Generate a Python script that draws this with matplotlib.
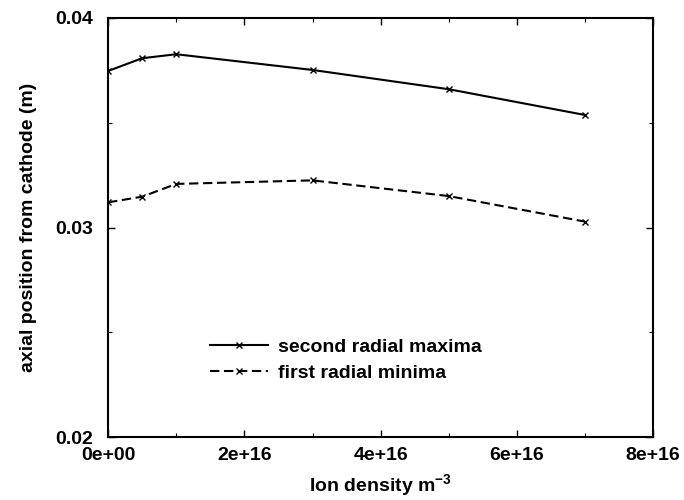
import matplotlib
matplotlib.use("Agg")
import matplotlib.pyplot as plt
from matplotlib.ticker import MultipleLocator, FuncFormatter

plt.rcParams['font.family'] = ['Liberation Sans', 'DejaVu Sans']
plt.rcParams['font.weight'] = 'bold'
plt.rcParams['axes.labelweight'] = 'bold'
plt.rcParams['mathtext.fontset'] = 'custom'
plt.rcParams['mathtext.rm'] = 'Liberation Sans:bold'
plt.rcParams['mathtext.default'] = 'rm'

ion_density = [0.0, 0.5e16, 1.0e16, 3.0e16, 5.0e16, 7.0e16]
second_radial_maxima = [0.03747, 0.03808, 0.03827, 0.03752, 0.0366, 0.03537]
first_radial_minima = [0.0312, 0.03147, 0.03208, 0.03225, 0.0315, 0.03028]

fig = plt.figure(figsize=(6.84, 5.0), dpi=100)
ax = fig.add_axes([0.158, 0.126, 0.797, 0.838])

ax.plot(ion_density, second_radial_maxima, '-', color='black', lw=1.5,
        marker='x', ms=4, mew=1.0, label='second radial maxima')
ax.plot(ion_density, first_radial_minima, '--', color='black', lw=1.5,
        dashes=(4.5, 2.2), marker='x', ms=4, mew=1.0, label='first radial minima')

ax.set_xlim(0, 8e16)
ax.set_ylim(0.02, 0.04)
ax.xaxis.set_major_locator(MultipleLocator(2e16))
ax.xaxis.set_minor_locator(MultipleLocator(1e16))
ax.yaxis.set_major_locator(MultipleLocator(0.01))
ax.yaxis.set_minor_locator(MultipleLocator(0.005))

def xfmt(v, pos):
    if abs(v) < 1:
        return '0e+00'
    m = v / 1e16
    return f'{m:.0f}e+16'

ax.xaxis.set_major_formatter(FuncFormatter(xfmt))
ax.yaxis.set_major_formatter(FuncFormatter(lambda v, p: f'{v:.2f}'))

ax.tick_params(which='both', direction='in', top=True, right=True, labelsize=14)
ax.tick_params(which='major', length=5, width=1.0)
ax.tick_params(which='minor', length=3, width=0.8)
ax.tick_params(axis='x', which='major', pad=7)
ax.tick_params(axis='y', which='major', pad=11)
for s in ax.spines.values():
    s.set_linewidth(1.5)

ax.set_xlabel('Ion density m$^{-3}$', fontsize=14, labelpad=6)
ax.set_ylabel('axial position from cathode (m)', fontsize=14, labelpad=13)

ax.legend(loc='upper left', bbox_to_anchor=(0.187, 0.235), frameon=False,
          fontsize=14, handlelength=3.0, handletextpad=0.5, labelspacing=0.4,
          borderpad=0, borderaxespad=0)

fig.savefig('out.png', dpi=100)
